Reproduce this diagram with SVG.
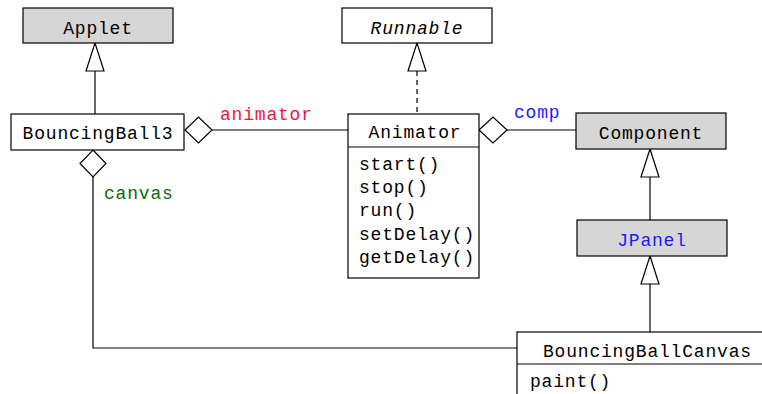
<svg xmlns="http://www.w3.org/2000/svg" width="762" height="394" viewBox="0 0 762 394">
<defs>
<style>
.box{fill:#fff;stroke:#000;stroke-width:1.2}
.lib{fill:#d6d6d6;stroke:#000;stroke-width:1.2}
.t{font-family:"Liberation Mono","Courier New",monospace;font-size:18px;letter-spacing:0.8px;fill:#000}
.c{text-anchor:middle}
.ln{fill:none;stroke:#000;stroke-width:1.2}
.dash{stroke-dasharray:5,4}
.tri{fill:#fff;stroke:#000;stroke-width:1.2}
.dia{fill:#fff;stroke:#000;stroke-width:1.2}
</style>
</defs>
<rect width="762" height="394" fill="#fff"/>
<g id="connectors">
<line class="ln" x1="95" y1="71" x2="95" y2="114"/>
<polygon class="tri" points="95,43 86,71 104,71"/>
<line class="ln dash" x1="417" y1="71" x2="417" y2="114"/>
<polygon class="tri" points="417,43 408,71 426,71"/>
<line class="ln" x1="212" y1="130" x2="348" y2="130"/>
<polygon class="dia" points="185,130 198.5,117 212,130 198.5,143"/>
<line class="ln" x1="507" y1="130" x2="576" y2="130"/>
<polygon class="dia" points="479,130 493,117 507,130 493,143"/>
<line class="ln" x1="650" y1="177" x2="650" y2="220"/>
<polygon class="tri" points="650,149 641,177 659,177"/>
<line class="ln" x1="650" y1="284" x2="650" y2="332"/>
<polygon class="tri" points="650,256 641,284 659,284"/>
<polyline class="ln" points="93,177 93,348 518,348"/>
<polygon class="dia" points="93,150 106,163.5 93,177 80,163.5"/>
<text class="t" x="220" y="120" fill="#f0143c" style="fill:#f0143c">animator</text>
<text class="t" x="514" y="118" style="fill:#1a1aff">comp</text>
<text class="t" x="104" y="199" style="fill:#0a6a0a">canvas</text>
</g>
<g id="Applet">
<rect class="lib" x="23" y="8" width="150" height="35"/>
<text class="t c" x="98" y="34">Applet</text>
</g>
<g id="Runnable">
<rect class="box" x="342" y="8" width="150" height="35"/>
<text class="t c" x="417" y="34" font-style="italic">Runnable</text>
</g>
<g id="BouncingBall3">
<rect class="box" x="11" y="114" width="173" height="36"/>
<text class="t c" x="98" y="139">BouncingBall3</text>
</g>
<g id="Animator">
<rect class="box" x="348" y="114" width="131" height="164"/>
<line class="ln" x1="348" y1="147" x2="479" y2="147"/>
<text class="t c" x="415" y="138">Animator</text>
<text class="t" x="359" y="170">start()</text>
<text class="t" x="359" y="193">stop()</text>
<text class="t" x="359" y="216">run()</text>
<text class="t" x="359" y="240">setDelay()</text>
<text class="t" x="359" y="263">getDelay()</text>
</g>
<g id="Component">
<rect class="lib" x="576" y="113" width="150" height="36"/>
<text class="t c" x="651" y="139">Component</text>
</g>
<g id="JPanel">
<rect class="lib" x="577" y="220" width="150" height="36"/>
<text class="t c" x="652" y="246" style="fill:#1a1aff">JPanel</text>
</g>
<g id="BouncingBallCanvas">
<rect class="box" x="517" y="332" width="260" height="80"/>
<line class="ln" x1="517" y1="364" x2="777" y2="364"/>
<text class="t" x="543" y="357">BouncingBallCanvas</text>
<text class="t" x="530" y="387">paint()</text>
</g>
</svg>
